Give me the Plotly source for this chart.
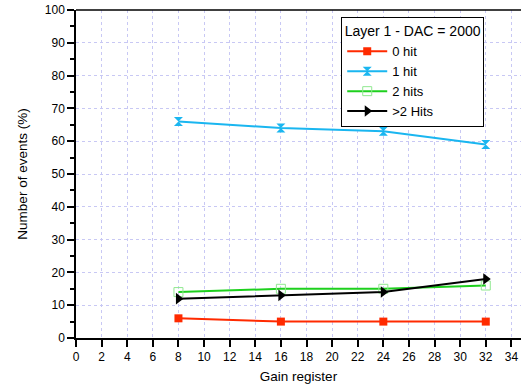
import plotly.graph_objects as go

gain = [8, 16, 24, 32]
hit0 = [6, 5, 5, 5]
hit1 = [66, 64, 63, 59]
hit2 = [14, 15, 15, 16]
hitmore = [12, 13, 14, 18]
x_ticks = list(range(0, 36, 2))
y_ticks = list(range(0, 101, 10))

fig = go.Figure()
fig.add_trace(go.Scatter(x=gain, y=hit0, name="0 hit", mode="lines+markers",
                         line=dict(color="#ff2a00", width=2),
                         marker=dict(symbol="square", size=8, color="#ff2a00")))
fig.add_trace(go.Scatter(x=gain, y=hit1, name="1 hit", mode="lines+markers",
                         line=dict(color="#1ab6f0", width=2),
                         marker=dict(symbol="hourglass", size=9, color="#1ab6f0")))
fig.add_trace(go.Scatter(x=gain, y=hit2, name="2 hits", mode="lines+markers",
                         line=dict(color="#1ed01e", width=2),
                         marker=dict(symbol="square-open", size=9, color="#90e890",
                                     line=dict(width=1))))
fig.add_trace(go.Scatter(x=gain, y=hitmore, name=">2 Hits", mode="lines+markers",
                         line=dict(color="#000000", width=2),
                         marker=dict(symbol="triangle-right", size=10, color="#000000")))

font = "Liberation Sans, Arial, sans-serif"
fig.update_layout(
    width=521, height=392,
    margin=dict(l=76, r=0, t=10, b=54),
    paper_bgcolor="white", plot_bgcolor="white",
    font=dict(family=font, size=12, color="black"),
    showlegend=True,
    legend=dict(x=0.596, y=0.978, xanchor="left", yanchor="top",
                bgcolor="white", bordercolor="black", borderwidth=1,
                title=dict(text="Layer 1 - DAC = 2000", side="top center",
                           font=dict(size=14)),
                font=dict(size=13), itemwidth=40, tracegroupgap=0),
    xaxis=dict(range=[0, 34.75], tickvals=x_ticks, ticks="outside", ticklen=7,
               tickwidth=1.5, tickcolor="black", showline=True, linecolor="black",
               linewidth=1.5, showgrid=True, gridcolor="#c8c8f4", griddash="dot",
               gridwidth=1, zeroline=False, automargin=False,
               title=dict(text="Gain register", font=dict(size=13.5), standoff=8)),
    yaxis=dict(range=[0, 100], tickvals=y_ticks, ticks="outside", ticklen=7,
               tickwidth=1.5, tickcolor="black", showline=True, linecolor="black",
               linewidth=1.5, showgrid=True, gridcolor="#c8c8f4", griddash="dot",
               gridwidth=1, zeroline=False, automargin=False,
               minor=dict(dtick=5, ticks="outside", ticklen=4, tickwidth=1.5,
                          tickcolor="black", showgrid=False),
               title=dict(text="Number of events (%)", font=dict(size=13.5), standoff=14)),
)
fig.add_shape(type="line", xref="paper", yref="paper", x0=0, x1=1, y0=1, y1=1,
              line=dict(color="black", width=1.5))
fig.write_html("out.html", config={"displayModeBar": False},
               post_script="document.body.style.margin='0';")
